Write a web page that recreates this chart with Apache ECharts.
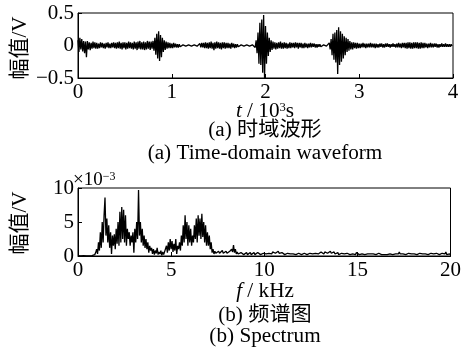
<!DOCTYPE html>
<html>
<head>
<meta charset="utf-8">
<script src="https://cdn.jsdelivr.net/npm/echarts@6/dist/echarts.min.js"></script>
<style>
html,body{margin:0;padding:0;background:#fff;}
#chart{width:464px;height:354px;}
</style>
</head>
<body>
<div id="chart"></div>
<script>
// ---------- DATA ----------
// (a) time-domain waveform: amplitude (V), one sample every 0.01 ×10^3 s from t = 0 to 4
const waveStep = 0.01;
const waveValues = [
 0.08,-0.10,0.12,-0.06,0.10,-0.09,0.07,-0.12,0.06,-0.18,
 0.07,-0.06,0.05,-0.07,0.04,-0.05,0.06,-0.04,0.05,-0.05,
 0.04,-0.05,0.03,-0.04,0.05,-0.03,0.04,-0.04,0.03,-0.05,
 0.04,-0.03,0.05,-0.04,0.03,-0.04,0.04,-0.03,0.05,-0.04,
 0.04,-0.05,0.05,-0.04,0.06,-0.05,0.04,-0.06,0.05,-0.04,
 0.05,-0.06,0.04,-0.05,0.06,-0.04,0.05,-0.05,0.04,-0.06,
 0.06,-0.05,0.05,-0.07,0.06,-0.05,0.07,-0.06,0.05,-0.06,
 0.06,-0.07,0.05,-0.06,0.07,-0.05,0.06,-0.07,0.06,-0.05,
 0.07,-0.08,0.12,-0.14,0.18,-0.20,0.22,-0.24,0.16,-0.18,
 0.12,-0.10,0.08,-0.07,0.06,-0.05,0.05,-0.04,0.04,-0.04,
 0.03,-0.04,0.04,-0.03,0.03,-0.03,0.02,-0.03,0.02,-0.02,
 0.01,-0.01,0.01,-0.02,0.01,-0.01,0.02,-0.01,0.01,-0.01,
 0.01,-0.01,0.02,-0.01,0.01,-0.02,0.01,-0.01,0.02,-0.02,
 0.03,-0.03,0.04,-0.03,0.04,-0.04,0.05,-0.04,0.04,-0.05,
 0.05,-0.04,0.06,-0.05,0.04,-0.07,0.05,-0.05,0.06,-0.04,
 0.05,-0.05,0.04,-0.06,0.05,-0.04,0.05,-0.05,0.04,-0.04,
 0.04,-0.04,0.03,-0.05,0.04,-0.03,0.03,-0.04,0.02,-0.03,
 0.02,-0.02,0.01,-0.02,0.01,-0.01,0.02,-0.01,0.01,-0.02,
 0.01,-0.01,0.02,-0.01,0.01,-0.02,0.01,-0.01,0.02,-0.03,
 0.08,-0.12,0.20,-0.28,0.35,-0.30,0.40,-0.42,0.47,-0.50,
 0.30,-0.28,0.20,-0.16,0.12,-0.10,0.08,-0.07,0.06,-0.05,
 0.05,-0.06,0.04,-0.05,0.05,-0.04,0.06,-0.05,0.04,-0.05,
 0.05,-0.04,0.04,-0.05,0.03,-0.04,0.05,-0.04,0.04,-0.03,
 0.04,-0.04,0.05,-0.03,0.04,-0.05,0.04,-0.03,0.04,-0.04,
 0.03,-0.04,0.04,-0.03,0.03,-0.04,0.03,-0.03,0.04,-0.03,
 0.03,-0.02,0.03,-0.03,0.02,-0.03,0.02,-0.02,0.02,-0.02,
 0.01,-0.01,0.01,-0.01,0.01,-0.01,0.02,-0.02,0.04,-0.06,
 0.10,-0.15,0.18,-0.22,0.20,-0.26,0.24,-0.44,0.28,-0.30,
 0.22,-0.25,0.18,-0.20,0.14,-0.15,0.12,-0.10,0.10,-0.08,
 0.07,-0.06,0.05,-0.06,0.05,-0.04,0.04,-0.05,0.04,-0.04,
 0.03,-0.04,0.03,-0.03,0.04,-0.03,0.03,-0.04,0.03,-0.03,
 0.03,-0.03,0.04,-0.03,0.03,-0.03,0.03,-0.04,0.03,-0.03,
 0.02,-0.03,0.03,-0.02,0.03,-0.03,0.02,-0.03,0.03,-0.02,
 0.03,-0.02,0.02,-0.03,0.02,-0.02,0.03,-0.02,0.02,-0.03,
 0.03,-0.03,0.04,-0.03,0.03,-0.04,0.04,-0.03,0.04,-0.04,
 0.04,-0.05,0.05,-0.04,0.05,-0.05,0.04,-0.05,0.05,-0.04,
 0.05,-0.04,0.05,-0.05,0.04,-0.05,0.05,-0.04,0.04,-0.04,
 0.04,-0.03,0.03,-0.04,0.03,-0.03,0.04,-0.03,0.03,-0.03,
 0.03,-0.02,0.03,-0.03,0.02,-0.03,0.02,-0.02,0.03,-0.02,
 0.02,-0.02,0.03,-0.02,0.02,-0.02,0.02,-0.02,0.02,-0.01,
 0.01
];
// (b) spectrum: amplitude (×10^-3 V), one bin every 0.05 kHz from 0 to 20 kHz
const specStep = 0.05;
const specValues = [
 0.05,0.02,0.04,0.03,0.05,0.02,0.04,0.03,0.05,0.02,
 0.03,0.05,0.02,0.04,0.03,0.05,0.04,0.06,0.2,0.5,
 1.0,0.3,2.0,0.8,3.5,1.2,5.0,2.0,6.0,8.6,
 3.0,5.5,2.0,4.5,1.2,3.5,0.3,3.0,1.5,3.2,
 1.0,4.0,1.8,5.0,1.5,6.5,2.0,7.2,2.5,6.8,
 2.0,6.0,1.5,4.0,2.5,3.5,1.5,3.0,2.0,3.5,
 0.5,4.0,2.0,5.0,2.5,9.7,3.0,5.0,2.0,4.0,
 1.5,3.0,1.2,2.5,1.0,2.0,0.5,1.5,0.8,1.2,
 0.3,1.0,0.2,0.8,0.4,1.2,0.2,0.6,0.3,0.8,
 0.1,0.6,0.2,0.4,0.3,1.5,0.5,2.0,0.8,2.5,
 1.0,2.2,0.6,1.8,0.8,2.5,0.3,1.5,1.0,2.0,
 0.8,3.0,1.5,4.5,2.0,6.0,2.5,5.0,1.5,4.5,
 2.0,4.0,1.5,3.0,2.0,4.5,2.5,5.5,2.0,6.0,
 3.0,5.5,2.5,6.2,2.8,5.0,2.0,4.5,1.5,3.5,
 1.5,3.0,1.0,2.0,0.5,1.0,0.3,0.7,0.4,0.6,
 0.3,0.7,0.4,0.6,0.3,0.8,0.4,0.6,0.3,0.7,
 0.4,0.6,0.3,0.7,0.5,1.0,0.6,1.6,0.5,1.0,
 0.3,0.6,0.3,0.5,0.2,0.5,0.3,0.6,0.2,0.4,
 0.3,0.5,0.2,0.4,0.3,0.5,0.2,0.4,0.3,0.5,
 0.2,0.4,0.3,0.5,0.3,0.7,0.2,0.4,0.3,0.4,
 0.2,0.4,0.3,0.5,0.2,0.4,0.3,0.5,0.3,0.6,
 0.4,0.7,0.4,0.6,0.3,0.7,0.4,0.6,0.3,0.5,
 0.3,0.5,0.2,0.4,0.3,0.4,0.2,0.4,0.3,0.4,
 0.2,0.3,0.2,0.4,0.2,0.3,0.2,0.4,0.2,0.3,
 0.2,0.3,0.2,0.4,0.2,0.3,0.2,0.4,0.3,0.4,
 0.2,0.4,0.3,0.5,0.3,0.4,0.2,0.5,0.3,0.5,
 0.3,0.6,0.4,0.7,0.3,0.6,0.4,0.7,0.4,0.6,
 0.3,0.7,0.4,0.6,0.3,0.6,0.3,0.5,0.3,0.5,
 0.2,0.4,0.3,0.4,0.2,0.4,0.3,0.5,0.2,0.4,
 0.2,0.3,0.2,0.4,0.2,0.3,0.3,0.4,0.2,0.5,
 0.3,0.7,0.2,0.4,0.2,0.3,0.2,0.3,0.2,0.3,
 0.2,0.3,0.2,0.2,0.3,0.2,0.2,0.3,0.2,0.3,
 0.2,0.3,0.2,0.4,0.2,0.3,0.2,0.2,0.3,0.2,
 0.2,0.3,0.2,0.2,0.2,0.3,0.2,0.2,0.2,0.3,
 0.2,0.3,0.2,0.4,0.3,0.6,0.3,0.4,0.2,0.3,
 0.2,0.3,0.2,0.3,0.3,0.4,0.2,0.3,0.3,0.4,
 0.2,0.3,0.3,0.4,0.2,0.3,0.3,0.4,0.2,0.3,
 0.3,0.4,0.2,0.3,0.3,0.4,0.2,0.4,0.3,0.4,
 0.2,0.3,0.3,0.4,0.2,0.4,0.3,0.4,0.2,0.4,
 0.3,0.4,0.2,0.5,0.3,0.6,0.2,0.4,0.3,0.3,
 0.2
];
const waveXTicks = [0, 1, 2, 3, 4];
const waveYTicks = [-0.5, 0, 0.5];
const specXTicks = [0, 5, 10, 15, 20];
const specYTicks = [0, 5, 10];

// ---------- CHART ----------
const FONT = '"Liberation Serif","Times New Roman","Noto Sans CJK SC",serif';
const wavePairs = waveValues.map((v, i) => [i * waveStep, v]);
const specPairs = specValues.map((v, i) => [i * specStep, v]);

function fmt(v) { return v < 0 ? '\u2212' + Math.abs(v) : String(v); }

function axisCfg(gi, ticks) {
  return {
    gridIndex: gi, type: 'value',
    min: ticks[0], max: ticks[ticks.length - 1], interval: ticks[1] - ticks[0],
    axisLine: { show: true, onZero: false, lineStyle: { color: '#000', width: 1 } },
    axisTick: { show: true, inside: true, length: 4, lineStyle: { color: '#000', width: 1 } },
    axisLabel: { color: '#000', fontSize: 21, fontFamily: FONT, margin: 4, formatter: fmt },
    splitLine: { show: false }
  };
}
function txt(text, x, y, extra) {
  return {
    type: 'text', x: x, y: y, scaleX: 1.06,
    style: Object.assign({
      text: text, fill: '#000', font: '20px ' + FONT,
      align: 'center', verticalAlign: 'middle'
    }, extra || {})
  };
}

const chart = echarts.init(document.getElementById('chart'), null, { renderer: 'canvas' });
chart.setOption({
  animation: false,
  backgroundColor: '#fff',
  grid: [
    { left: 78, top: 13, width: 375, height: 65, show: true, borderColor: '#000', borderWidth: 1, backgroundColor: 'transparent' },
    { left: 78, top: 188, width: 375, height: 68, show: true, borderColor: '#000', borderWidth: 1, backgroundColor: 'transparent' }
  ],
  xAxis: [axisCfg(0, waveXTicks), axisCfg(1, specXTicks)],
  yAxis: [axisCfg(0, waveYTicks), axisCfg(1, specYTicks)],
  series: [
    { type: 'line', xAxisIndex: 0, yAxisIndex: 0, data: wavePairs, showSymbol: false, sampling: null,
      lineStyle: { color: '#000', width: 1.3 }, silent: true },
    { type: 'line', xAxisIndex: 1, yAxisIndex: 1, data: specPairs, showSymbol: false, sampling: null,
      lineStyle: { color: '#000', width: 1.3 }, silent: true }
  ],
  graphic: [
    { type: 'text', x: 20, y: 48, rotation: Math.PI / 2,
      style: { text: '幅值/V', fill: '#000', font: '21px ' + FONT, align: 'center', verticalAlign: 'middle' } },
    { type: 'text', x: 20, y: 223, rotation: Math.PI / 2,
      style: { text: '幅值/V', fill: '#000', font: '21px ' + FONT, align: 'center', verticalAlign: 'middle' } },
    txt('{i|t} / 10{s|3}s', 265, 112, {
      rich: { i: { fontStyle: 'italic', fontSize: 20, fontFamily: FONT }, s: { fontSize: 12, fontFamily: FONT, verticalAlign: 'top' } } }),
    txt('(a) 时域波形', 265, 131),
    txt('(a) Time-domain waveform', 265, 154),
    { type: 'text', x: 73, y: 180,
      style: { text: '×10{s|\u22123}', fill: '#000', font: '19px ' + FONT, align: 'left', verticalAlign: 'middle',
        rich: { s: { fontSize: 12, fontFamily: FONT, verticalAlign: 'top' } } } },
    txt('{i|f} / kHz', 265, 292, {
      rich: { i: { fontStyle: 'italic', fontSize: 20, fontFamily: FONT } } }),
    txt('(b) 频谱图', 265, 316),
    txt('(b) Spectrum', 265, 337)
  ]
});
</script>
</body>
</html>
